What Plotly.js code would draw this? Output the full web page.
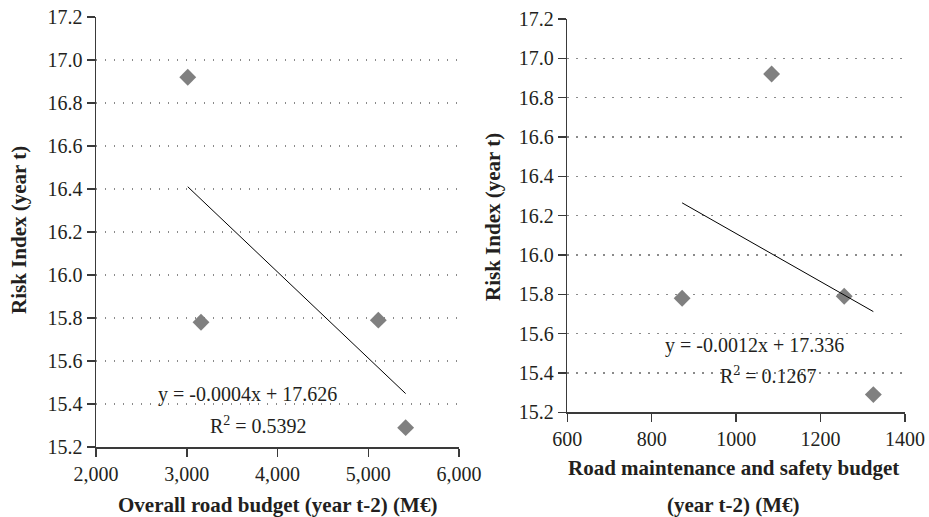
<!DOCTYPE html>
<html>
<head>
<meta charset="utf-8">
<script src="https://cdn.plot.ly/plotly-3.0.1.min.js"></script>
<style>html,body{margin:0;padding:0;background:#fff;}#chart{width:929px;height:517px;}</style>
</head>
<body>
<div id="chart"></div>
<script>
// Data
const riskIndex = [16.92, 15.78, 15.79, 15.29];
const overallBudget = [3011, 3157, 5111, 5412];
const maintenanceBudget = [1084, 872, 1256, 1325];
const leftEquation = "y = -0.0004x + 17.626";
const leftR2 = "R<sup>2</sup> = 0.5392";
const rightEquation = "y = -0.0012x + 17.336";
const rightR2 = "R<sup>2</sup> = 0.1267";
const leftXTicks = [2000, 3000, 4000, 5000, 6000];
const rightXTicks = [600, 800, 1000, 1200, 1400];
const yTicks = [15.2, 15.4, 15.6, 15.8, 16.0, 16.2, 16.4, 16.6, 16.8, 17.0, 17.2];

function fitLine(xs, ys) {
  const n = xs.length;
  const mx = xs.reduce((a, b) => a + b, 0) / n;
  const my = ys.reduce((a, b) => a + b, 0) / n;
  let sxy = 0, sxx = 0;
  for (let i = 0; i < n; i++) { sxy += (xs[i] - mx) * (ys[i] - my); sxx += (xs[i] - mx) ** 2; }
  const b = sxy / sxx, a = my - b * mx;
  const x0 = Math.min(...xs), x1 = Math.max(...xs);
  return { x: [x0, x1], y: [a + b * x0, a + b * x1] };
}

const W = 929, H = 517;
const px = v => v / W;
const py = v => 1 - v / H;

const FONT = "Liberation Serif, Times New Roman, serif";
const TXT = "#231f20";
const markerStyle = { symbol: "diamond", size: 13, color: "#808080" };

const fitL = fitLine(overallBudget, riskIndex);
const fitR = fitLine(maintenanceBudget, riskIndex);

const traces = [
  { x: overallBudget, y: riskIndex, type: "scatter", mode: "markers", marker: markerStyle, xaxis: "x", yaxis: "y", showlegend: false, hoverinfo: "x+y" },
  { x: fitL.x, y: fitL.y, type: "scatter", mode: "lines", line: { color: "#000", width: 1 }, xaxis: "x", yaxis: "y", showlegend: false },
  { x: maintenanceBudget, y: riskIndex, type: "scatter", mode: "markers", marker: markerStyle, xaxis: "x2", yaxis: "y2", showlegend: false, hoverinfo: "x+y" },
  { x: fitR.x, y: fitR.y, type: "scatter", mode: "lines", line: { color: "#000", width: 1 }, xaxis: "x2", yaxis: "y2", showlegend: false }
];

const axisCommon = {
  showline: true, linecolor: "#3a3a3a", linewidth: 1.5,
  ticks: "outside", ticklen: 8, tickwidth: 1.5, tickcolor: "#3a3a3a",
  tickfont: { family: FONT, size: 20, color: TXT },
  zeroline: false, fixedrange: true
};
const yCommon = Object.assign({}, axisCommon, {
  range: [15.2, 17.2], tickmode: "array", tickvals: yTicks, tickformat: ".1f",
  showgrid: true, gridcolor: "#8a8a8a", gridwidth: 1.2, griddash: "1.2px,7.8px"
});

function ann(text, x, y, opts) {
  return Object.assign({ text: text, xref: "paper", yref: "paper", x: px(x), y: py(y), xanchor: "center", yanchor: "middle", showarrow: false, font: { family: FONT, size: 20, color: TXT } }, opts || {});
}
const boldFont = { family: FONT, size: 21, color: TXT, weight: "bold" };

const layout = {
  width: W, height: H,
  margin: { l: 0, r: 0, t: 0, b: 0 },
  paper_bgcolor: "#fff", plot_bgcolor: "#fff",
  showlegend: false,
  xaxis: Object.assign({}, axisCommon, { domain: [px(96), px(459)], range: [2000, 6000], tickmode: "array", tickvals: leftXTicks, tickformat: ",d", showgrid: false, anchor: "y" }),
  yaxis: Object.assign({}, yCommon, { domain: [py(447), py(17)], anchor: "x" }),
  xaxis2: Object.assign({}, axisCommon, { domain: [px(567.3), px(905)], range: [600, 1400], tickmode: "array", tickvals: rightXTicks, tickformat: "d", showgrid: false, anchor: "y2" }),
  yaxis2: Object.assign({}, yCommon, { domain: [py(412.3), py(19)], anchor: "x2" }),
  annotations: [
    ann(leftEquation, 247.7, 394),
    ann(leftR2, 258, 425),
    ann(rightEquation, 754.7, 345),
    ann(rightR2, 768.3, 375),
    ann("Overall road budget (year t-2) (M€)", 277.5, 505, { font: boldFont }),
    ann("Road maintenance and safety budget", 733.3, 468.3, { font: boldFont }),
    ann("(year t-2) (M€)", 733.3, 505, { font: boldFont }),
    ann("Risk Index (year t)", 19, 230, { font: boldFont, textangle: -90 }),
    ann("Risk Index (year t)", 493, 217, { font: boldFont, textangle: -90 })
  ]
};

Plotly.newPlot("chart", traces, layout, { displayModeBar: false, staticPlot: true });
</script>
</body>
</html>
